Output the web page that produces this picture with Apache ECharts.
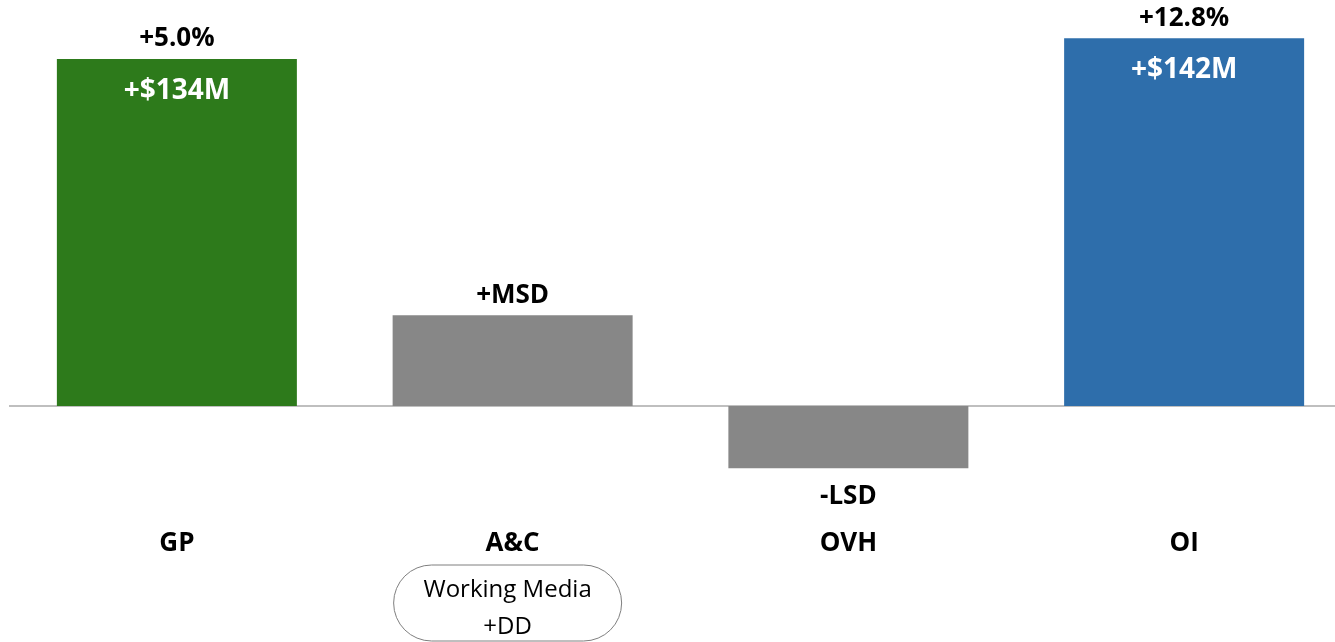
<!DOCTYPE html>
<html>
<head>
<meta charset="utf-8">
<title>GP to OI bridge</title>
<script src="https://cdn.jsdelivr.net/npm/echarts@6/dist/echarts.min.js"></script>
<style>
  html, body { margin: 0; padding: 0; background: #ffffff; overflow: hidden; }
  #chart { width: 1352px; height: 642px; }
</style>
</head>
<body>
<div id="chart"></div>
<script>
// Category names along the bottom
const categories = ['GP', 'A&C', 'OVH', 'OI'];
// Change in $M for each driver
const values = [134, 35, -24, 142];
// Text shown above (or below) each bar
const outerLabels = ['+5.0%', '+MSD', '-LSD', '+12.8%'];
// Text shown inside the top of each bar
const innerLabels = ['+$134M', '', '', '+$142M'];
// Bar fill per category
const barColors = ['#2d7a1b', '#878787', '#878787', '#2e6eab'];
// Note attached under the A&C category
const noteLines = ['Working Media', '+DD'];

const FONT = '"Open Sans", Lato, sans-serif';

const chart = echarts.init(document.getElementById('chart'), null, { renderer: 'canvas' });

const option = {
  animation: false,
  backgroundColor: '#ffffff',
  grid: { left: 9, right: 0, top: 17.5, height: 512.8 },
  xAxis: {
    type: 'category',
    data: categories,
    position: 'bottom',
    axisLine: { show: false },
    axisTick: { show: false },
    axisLabel: {
      margin: 0,
      fontFamily: FONT,
      fontWeight: 'bold',
      fontSize: 26,
      lineHeight: 26,
      color: '#000000'
    }
  },
  yAxis: {
    type: 'value',
    min: -48,
    max: 150,
    show: false,
    splitLine: { show: false }
  },
  series: [
    {
      name: 'bars',
      type: 'bar',
      barWidth: 240,
      z: 3,
      data: values.map((v, i) => ({
        value: v,
        itemStyle: { color: barColors[i] }
      })),
      label: {
        show: true,
        position: 'insideTop',
        distance: 18,
        fontFamily: FONT,
        fontWeight: 'bold',
        fontSize: 28,
        lineHeight: 28,
        color: '#ffffff',
        formatter: p => innerLabels[p.dataIndex]
      },
      // zero baseline
      markLine: {
        silent: true,
        symbol: 'none',
        label: { show: false },
        lineStyle: { color: '#bfbfbf', width: 2, type: 'solid' },
        z: 1,
        data: [{ yAxis: 0 }]
      }
    },
    {
      name: 'notes',
      type: 'bar',
      barWidth: 240,
      barGap: '-100%',
      z: 4,
      itemStyle: { color: 'rgba(0,0,0,0)' },
      data: values.map((v, i) => ({
        value: v,
        label: v >= 0
          ? { position: 'top', distance: 7 }
          : { position: 'bottom', distance: 15 }
      })),
      label: {
        show: true,
        fontFamily: FONT,
        fontWeight: 'bold',
        fontSize: 26,
        lineHeight: 26,
        color: '#000000',
        formatter: p => outerLabels[p.dataIndex]
      }
    }
  ]
};

chart.setOption(option);

// Rounded note box under A&C
const cx = chart.convertToPixel({ xAxisIndex: 0 }, 'A&C') - 5;
const boxW = 228, boxH = 76, boxTop = 565;
chart.setOption({
  graphic: [
    {
      type: 'rect',
      shape: { x: cx - boxW / 2, y: boxTop, width: boxW, height: boxH, r: 38 },
      style: { fill: '#ffffff', stroke: '#7f7f7f', lineWidth: 1 },
      z: 10
    },
    {
      type: 'text',
      x: cx,
      y: boxTop + 44,
      style: {
        text: noteLines.join('\n'),
        fontFamily: FONT,
        fontSize: 24,
        lineHeight: 37,
        fill: '#000000',
        align: 'center',
        verticalAlign: 'middle'
      },
      z: 11
    }
  ]
});
</script>
</body>
</html>
